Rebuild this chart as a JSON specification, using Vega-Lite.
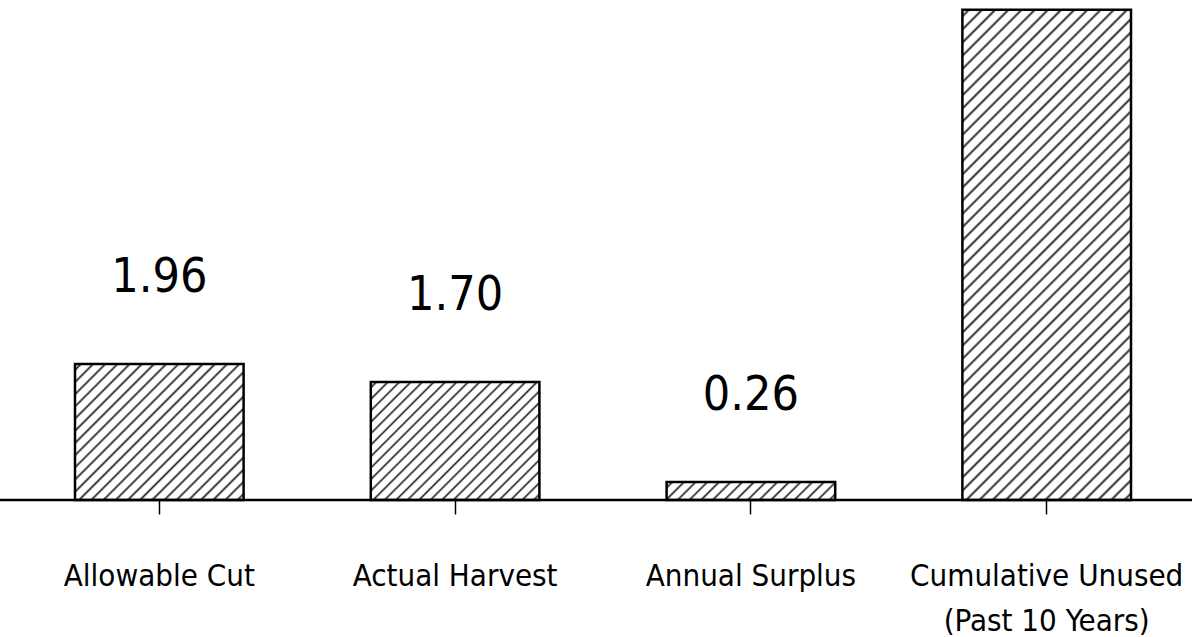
{
  "$schema": "https://vega.github.io/schema/vega-lite/v6.json",
  "width": 1192,
  "height": 500,
  "autosize": "none",
  "padding": {"top": 0, "left": 0, "right": 0, "bottom": 137},
  "background": "white",
  "config": {"view": {"stroke": null}},
  "data": {"values": [
    {"category": "Allowable Cut", "value": 1.96, "label": "1.96"},
    {"category": "Actual Harvest", "value": 1.70, "label": "1.70"},
    {"category": "Annual Surplus", "value": 0.26, "label": "0.26"},
    {"category": "Cumulative Unused|(Past 10 Years)", "value": 7.06, "label": ""}
  ]},
  "layer": [
    {
      "encoding": {
        "x": {"field": "category", "type": "nominal", "sort": null,
          "scale": {"range": [75, 1131], "paddingInner": 0.43, "paddingOuter": 0},
          "axis": {"title": null, "domain": false, "ticks": true, "tickSize": 14, "tickColor": "black", "tickWidth": 1.5,
            "labelAngle": 0, "labelFont": "DejaVu Sans Condensed, sans-serif", "labelFontSize": 31, "labelColor": "black",
            "labelPadding": 47, "labelExpr": "split(datum.label, '|')", "labelLineHeight": 45, "labelLimit": 0, "labelOverlap": false, "labelFlush": false}},
        "y": {"field": "value", "type": "quantitative", "scale": {"domain": [0, 7.2], "nice": false, "zero": true}, "axis": null}
      },
      "layer": [
        {
          "transform": [{"filter": "datum.category == 'Allowable Cut'"}],
          "mark": {"type": "bar", "stroke": "black", "strokeWidth": 2.5,
            "fill": {"gradient": "linear", "x1": 0, "y1": 0, "x2": 1.0942, "y2": 0.8833, "stops": [
              {"offset":0.012,"color":"#fff"},{"offset":0.02,"color":"#222"},{"offset":0.028,"color":"#fff"},
              {"offset":0.052,"color":"#fff"},{"offset":0.06,"color":"#222"},{"offset":0.068,"color":"#fff"},
              {"offset":0.092,"color":"#fff"},{"offset":0.1,"color":"#222"},{"offset":0.108,"color":"#fff"},
              {"offset":0.132,"color":"#fff"},{"offset":0.14,"color":"#222"},{"offset":0.148,"color":"#fff"},
              {"offset":0.172,"color":"#fff"},{"offset":0.18,"color":"#222"},{"offset":0.188,"color":"#fff"},
              {"offset":0.212,"color":"#fff"},{"offset":0.22,"color":"#222"},{"offset":0.228,"color":"#fff"},
              {"offset":0.252,"color":"#fff"},{"offset":0.26,"color":"#222"},{"offset":0.268,"color":"#fff"},
              {"offset":0.292,"color":"#fff"},{"offset":0.3,"color":"#222"},{"offset":0.308,"color":"#fff"},
              {"offset":0.332,"color":"#fff"},{"offset":0.34,"color":"#222"},{"offset":0.348,"color":"#fff"},
              {"offset":0.372,"color":"#fff"},{"offset":0.38,"color":"#222"},{"offset":0.388,"color":"#fff"},
              {"offset":0.412,"color":"#fff"},{"offset":0.42,"color":"#222"},{"offset":0.428,"color":"#fff"},
              {"offset":0.452,"color":"#fff"},{"offset":0.46,"color":"#222"},{"offset":0.468,"color":"#fff"},
              {"offset":0.492,"color":"#fff"},{"offset":0.5,"color":"#222"},{"offset":0.508,"color":"#fff"},
              {"offset":0.532,"color":"#fff"},{"offset":0.54,"color":"#222"},{"offset":0.548,"color":"#fff"},
              {"offset":0.572,"color":"#fff"},{"offset":0.58,"color":"#222"},{"offset":0.588,"color":"#fff"},
              {"offset":0.612,"color":"#fff"},{"offset":0.62,"color":"#222"},{"offset":0.628,"color":"#fff"},
              {"offset":0.652,"color":"#fff"},{"offset":0.66,"color":"#222"},{"offset":0.668,"color":"#fff"},
              {"offset":0.692,"color":"#fff"},{"offset":0.7,"color":"#222"},{"offset":0.708,"color":"#fff"},
              {"offset":0.732,"color":"#fff"},{"offset":0.74,"color":"#222"},{"offset":0.748,"color":"#fff"},
              {"offset":0.772,"color":"#fff"},{"offset":0.78,"color":"#222"},{"offset":0.788,"color":"#fff"},
              {"offset":0.812,"color":"#fff"},{"offset":0.82,"color":"#222"},{"offset":0.828,"color":"#fff"},
              {"offset":0.852,"color":"#fff"},{"offset":0.86,"color":"#222"},{"offset":0.868,"color":"#fff"},
              {"offset":0.892,"color":"#fff"},{"offset":0.9,"color":"#222"},{"offset":0.908,"color":"#fff"},
              {"offset":0.932,"color":"#fff"},{"offset":0.94,"color":"#222"},{"offset":0.948,"color":"#fff"},
              {"offset":0.972,"color":"#fff"},{"offset":0.98,"color":"#222"},{"offset":0.988,"color":"#fff"}
            ]}}
        },
        {
          "transform": [{"filter": "datum.category == 'Actual Harvest'"}],
          "mark": {"type": "bar", "stroke": "black", "strokeWidth": 2.5,
            "fill": {"gradient": "linear", "x1": 0, "y1": 0, "x2": 1.1408, "y2": 0.799, "stops": [
              {"offset":0.012,"color":"#fff"},{"offset":0.02,"color":"#222"},{"offset":0.028,"color":"#fff"},
              {"offset":0.052,"color":"#fff"},{"offset":0.06,"color":"#222"},{"offset":0.068,"color":"#fff"},
              {"offset":0.092,"color":"#fff"},{"offset":0.1,"color":"#222"},{"offset":0.108,"color":"#fff"},
              {"offset":0.132,"color":"#fff"},{"offset":0.14,"color":"#222"},{"offset":0.148,"color":"#fff"},
              {"offset":0.172,"color":"#fff"},{"offset":0.18,"color":"#222"},{"offset":0.188,"color":"#fff"},
              {"offset":0.212,"color":"#fff"},{"offset":0.22,"color":"#222"},{"offset":0.228,"color":"#fff"},
              {"offset":0.252,"color":"#fff"},{"offset":0.26,"color":"#222"},{"offset":0.268,"color":"#fff"},
              {"offset":0.292,"color":"#fff"},{"offset":0.3,"color":"#222"},{"offset":0.308,"color":"#fff"},
              {"offset":0.332,"color":"#fff"},{"offset":0.34,"color":"#222"},{"offset":0.348,"color":"#fff"},
              {"offset":0.372,"color":"#fff"},{"offset":0.38,"color":"#222"},{"offset":0.388,"color":"#fff"},
              {"offset":0.412,"color":"#fff"},{"offset":0.42,"color":"#222"},{"offset":0.428,"color":"#fff"},
              {"offset":0.452,"color":"#fff"},{"offset":0.46,"color":"#222"},{"offset":0.468,"color":"#fff"},
              {"offset":0.492,"color":"#fff"},{"offset":0.5,"color":"#222"},{"offset":0.508,"color":"#fff"},
              {"offset":0.532,"color":"#fff"},{"offset":0.54,"color":"#222"},{"offset":0.548,"color":"#fff"},
              {"offset":0.572,"color":"#fff"},{"offset":0.58,"color":"#222"},{"offset":0.588,"color":"#fff"},
              {"offset":0.612,"color":"#fff"},{"offset":0.62,"color":"#222"},{"offset":0.628,"color":"#fff"},
              {"offset":0.652,"color":"#fff"},{"offset":0.66,"color":"#222"},{"offset":0.668,"color":"#fff"},
              {"offset":0.692,"color":"#fff"},{"offset":0.7,"color":"#222"},{"offset":0.708,"color":"#fff"},
              {"offset":0.732,"color":"#fff"},{"offset":0.74,"color":"#222"},{"offset":0.748,"color":"#fff"},
              {"offset":0.772,"color":"#fff"},{"offset":0.78,"color":"#222"},{"offset":0.788,"color":"#fff"},
              {"offset":0.812,"color":"#fff"},{"offset":0.82,"color":"#222"},{"offset":0.828,"color":"#fff"},
              {"offset":0.852,"color":"#fff"},{"offset":0.86,"color":"#222"},{"offset":0.868,"color":"#fff"},
              {"offset":0.892,"color":"#fff"},{"offset":0.9,"color":"#222"},{"offset":0.908,"color":"#fff"},
              {"offset":0.932,"color":"#fff"},{"offset":0.94,"color":"#222"},{"offset":0.948,"color":"#fff"},
              {"offset":0.972,"color":"#fff"},{"offset":0.98,"color":"#222"},{"offset":0.988,"color":"#fff"}
            ]}}
        },
        {
          "transform": [{"filter": "datum.category == 'Annual Surplus'"}],
          "mark": {"type": "bar", "stroke": "black", "strokeWidth": 2.5,
            "fill": {"gradient": "linear", "x1": 0, "y1": 0, "x2": 1.0947, "y2": 0.1175, "stops": [
              {"offset":0.01875,"color":"#fff"},{"offset":0.03125,"color":"#222"},{"offset":0.04375,"color":"#fff"},
              {"offset":0.08125,"color":"#fff"},{"offset":0.09375,"color":"#222"},{"offset":0.10625,"color":"#fff"},
              {"offset":0.14375,"color":"#fff"},{"offset":0.15625,"color":"#222"},{"offset":0.16875,"color":"#fff"},
              {"offset":0.20625,"color":"#fff"},{"offset":0.21875,"color":"#222"},{"offset":0.23125,"color":"#fff"},
              {"offset":0.26875,"color":"#fff"},{"offset":0.28125,"color":"#222"},{"offset":0.29375,"color":"#fff"},
              {"offset":0.33125,"color":"#fff"},{"offset":0.34375,"color":"#222"},{"offset":0.35625,"color":"#fff"},
              {"offset":0.39375,"color":"#fff"},{"offset":0.40625,"color":"#222"},{"offset":0.41875,"color":"#fff"},
              {"offset":0.45625,"color":"#fff"},{"offset":0.46875,"color":"#222"},{"offset":0.48125,"color":"#fff"},
              {"offset":0.51875,"color":"#fff"},{"offset":0.53125,"color":"#222"},{"offset":0.54375,"color":"#fff"},
              {"offset":0.58125,"color":"#fff"},{"offset":0.59375,"color":"#222"},{"offset":0.60625,"color":"#fff"},
              {"offset":0.64375,"color":"#fff"},{"offset":0.65625,"color":"#222"},{"offset":0.66875,"color":"#fff"},
              {"offset":0.70625,"color":"#fff"},{"offset":0.71875,"color":"#222"},{"offset":0.73125,"color":"#fff"},
              {"offset":0.76875,"color":"#fff"},{"offset":0.78125,"color":"#222"},{"offset":0.79375,"color":"#fff"},
              {"offset":0.83125,"color":"#fff"},{"offset":0.84375,"color":"#222"},{"offset":0.85625,"color":"#fff"},
              {"offset":0.89375,"color":"#fff"},{"offset":0.90625,"color":"#222"},{"offset":0.91875,"color":"#fff"},
              {"offset":0.95625,"color":"#fff"},{"offset":0.96875,"color":"#222"},{"offset":0.98125,"color":"#fff"}
            ]}}
        },
        {
          "transform": [{"filter": "datum.category == 'Cumulative Unused|(Past 10 Years)'"}],
          "mark": {"type": "bar", "stroke": "black", "strokeWidth": 2.5,
            "fill": {"gradient": "linear", "x1": 0, "y1": 0, "x2": 0.4133, "y2": 1.2018, "stops": [
              {"offset":0.006,"color":"#fff"},{"offset":0.01,"color":"#222"},{"offset":0.014,"color":"#fff"},
              {"offset":0.026,"color":"#fff"},{"offset":0.03,"color":"#222"},{"offset":0.034,"color":"#fff"},
              {"offset":0.046,"color":"#fff"},{"offset":0.05,"color":"#222"},{"offset":0.054,"color":"#fff"},
              {"offset":0.066,"color":"#fff"},{"offset":0.07,"color":"#222"},{"offset":0.074,"color":"#fff"},
              {"offset":0.086,"color":"#fff"},{"offset":0.09,"color":"#222"},{"offset":0.094,"color":"#fff"},
              {"offset":0.106,"color":"#fff"},{"offset":0.11,"color":"#222"},{"offset":0.114,"color":"#fff"},
              {"offset":0.126,"color":"#fff"},{"offset":0.13,"color":"#222"},{"offset":0.134,"color":"#fff"},
              {"offset":0.146,"color":"#fff"},{"offset":0.15,"color":"#222"},{"offset":0.154,"color":"#fff"},
              {"offset":0.166,"color":"#fff"},{"offset":0.17,"color":"#222"},{"offset":0.174,"color":"#fff"},
              {"offset":0.186,"color":"#fff"},{"offset":0.19,"color":"#222"},{"offset":0.194,"color":"#fff"},
              {"offset":0.206,"color":"#fff"},{"offset":0.21,"color":"#222"},{"offset":0.214,"color":"#fff"},
              {"offset":0.226,"color":"#fff"},{"offset":0.23,"color":"#222"},{"offset":0.234,"color":"#fff"},
              {"offset":0.246,"color":"#fff"},{"offset":0.25,"color":"#222"},{"offset":0.254,"color":"#fff"},
              {"offset":0.266,"color":"#fff"},{"offset":0.27,"color":"#222"},{"offset":0.274,"color":"#fff"},
              {"offset":0.286,"color":"#fff"},{"offset":0.29,"color":"#222"},{"offset":0.294,"color":"#fff"},
              {"offset":0.306,"color":"#fff"},{"offset":0.31,"color":"#222"},{"offset":0.314,"color":"#fff"},
              {"offset":0.326,"color":"#fff"},{"offset":0.33,"color":"#222"},{"offset":0.334,"color":"#fff"},
              {"offset":0.346,"color":"#fff"},{"offset":0.35,"color":"#222"},{"offset":0.354,"color":"#fff"},
              {"offset":0.366,"color":"#fff"},{"offset":0.37,"color":"#222"},{"offset":0.374,"color":"#fff"},
              {"offset":0.386,"color":"#fff"},{"offset":0.39,"color":"#222"},{"offset":0.394,"color":"#fff"},
              {"offset":0.406,"color":"#fff"},{"offset":0.41,"color":"#222"},{"offset":0.414,"color":"#fff"},
              {"offset":0.426,"color":"#fff"},{"offset":0.43,"color":"#222"},{"offset":0.434,"color":"#fff"},
              {"offset":0.446,"color":"#fff"},{"offset":0.45,"color":"#222"},{"offset":0.454,"color":"#fff"},
              {"offset":0.466,"color":"#fff"},{"offset":0.47,"color":"#222"},{"offset":0.474,"color":"#fff"},
              {"offset":0.486,"color":"#fff"},{"offset":0.49,"color":"#222"},{"offset":0.494,"color":"#fff"},
              {"offset":0.506,"color":"#fff"},{"offset":0.51,"color":"#222"},{"offset":0.514,"color":"#fff"},
              {"offset":0.526,"color":"#fff"},{"offset":0.53,"color":"#222"},{"offset":0.534,"color":"#fff"},
              {"offset":0.546,"color":"#fff"},{"offset":0.55,"color":"#222"},{"offset":0.554,"color":"#fff"},
              {"offset":0.566,"color":"#fff"},{"offset":0.57,"color":"#222"},{"offset":0.574,"color":"#fff"},
              {"offset":0.586,"color":"#fff"},{"offset":0.59,"color":"#222"},{"offset":0.594,"color":"#fff"},
              {"offset":0.606,"color":"#fff"},{"offset":0.61,"color":"#222"},{"offset":0.614,"color":"#fff"},
              {"offset":0.626,"color":"#fff"},{"offset":0.63,"color":"#222"},{"offset":0.634,"color":"#fff"},
              {"offset":0.646,"color":"#fff"},{"offset":0.65,"color":"#222"},{"offset":0.654,"color":"#fff"},
              {"offset":0.666,"color":"#fff"},{"offset":0.67,"color":"#222"},{"offset":0.674,"color":"#fff"},
              {"offset":0.686,"color":"#fff"},{"offset":0.69,"color":"#222"},{"offset":0.694,"color":"#fff"},
              {"offset":0.706,"color":"#fff"},{"offset":0.71,"color":"#222"},{"offset":0.714,"color":"#fff"},
              {"offset":0.726,"color":"#fff"},{"offset":0.73,"color":"#222"},{"offset":0.734,"color":"#fff"},
              {"offset":0.746,"color":"#fff"},{"offset":0.75,"color":"#222"},{"offset":0.754,"color":"#fff"},
              {"offset":0.766,"color":"#fff"},{"offset":0.77,"color":"#222"},{"offset":0.774,"color":"#fff"},
              {"offset":0.786,"color":"#fff"},{"offset":0.79,"color":"#222"},{"offset":0.794,"color":"#fff"},
              {"offset":0.806,"color":"#fff"},{"offset":0.81,"color":"#222"},{"offset":0.814,"color":"#fff"},
              {"offset":0.826,"color":"#fff"},{"offset":0.83,"color":"#222"},{"offset":0.834,"color":"#fff"},
              {"offset":0.846,"color":"#fff"},{"offset":0.85,"color":"#222"},{"offset":0.854,"color":"#fff"},
              {"offset":0.866,"color":"#fff"},{"offset":0.87,"color":"#222"},{"offset":0.874,"color":"#fff"},
              {"offset":0.886,"color":"#fff"},{"offset":0.89,"color":"#222"},{"offset":0.894,"color":"#fff"},
              {"offset":0.906,"color":"#fff"},{"offset":0.91,"color":"#222"},{"offset":0.914,"color":"#fff"},
              {"offset":0.926,"color":"#fff"},{"offset":0.93,"color":"#222"},{"offset":0.934,"color":"#fff"},
              {"offset":0.946,"color":"#fff"},{"offset":0.95,"color":"#222"},{"offset":0.954,"color":"#fff"},
              {"offset":0.966,"color":"#fff"},{"offset":0.97,"color":"#222"},{"offset":0.974,"color":"#fff"},
              {"offset":0.986,"color":"#fff"},{"offset":0.99,"color":"#222"},{"offset":0.994,"color":"#fff"}
            ]}}
        },
        {
          "mark": {"type": "text", "font": "DejaVu Sans Condensed, sans-serif", "fontSize": 48, "color": "black", "baseline": "middle", "dy": -86},
          "encoding": {
            "text": {"field": "label"}
          }
        }
      ]
    },
    {
      "data": {"values": [{}]},
      "mark": {"type": "rule", "stroke": "black", "strokeWidth": 2.5},
      "encoding": {"y": {"datum": 0}}
    }
  ]
}
